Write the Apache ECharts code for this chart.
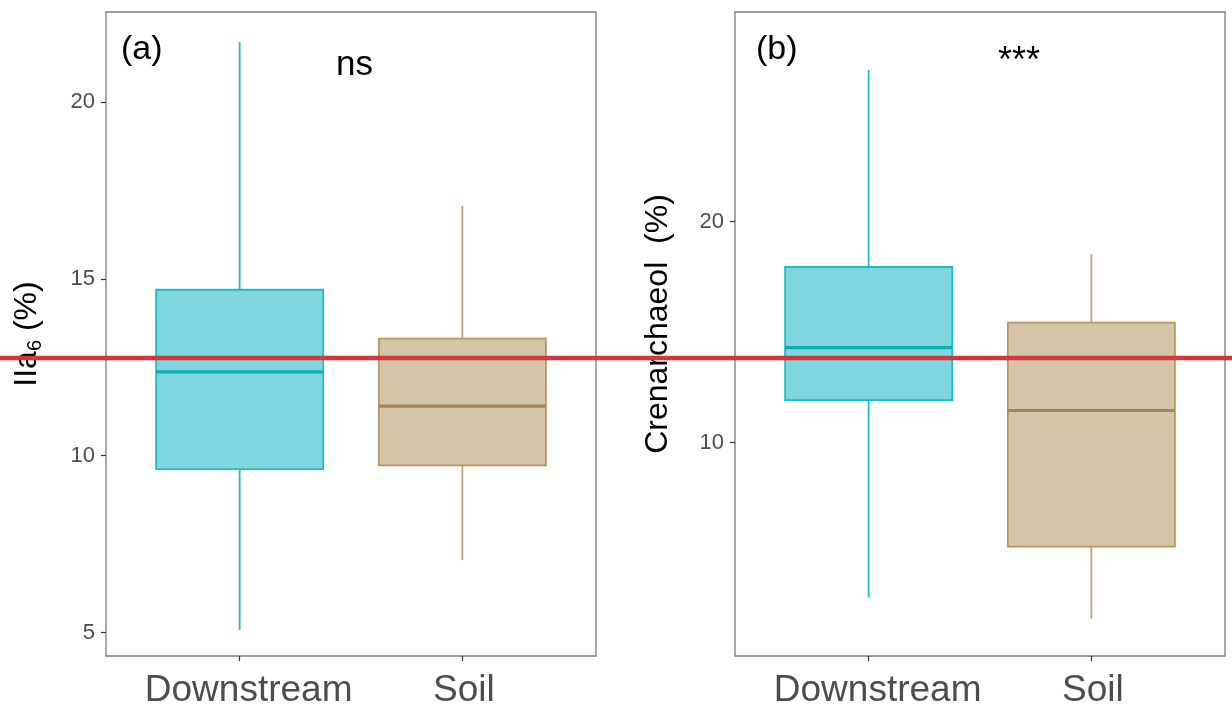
<!DOCTYPE html>
<html>
<head>
<meta charset="utf-8">
<script src="https://cdn.jsdelivr.net/npm/echarts@6/dist/echarts.min.js"></script>
<style>
  html, body { margin: 0; padding: 0; background: #fff; }
  #main { width: 1232px; height: 705px; }
</style>
</head>
<body>
<div id="main"></div>
<script>
// categories on the x axis (ggplot-style positions 1 and 2)
var categories = ["Downstream", "Soil"];
var catPos = [1, 2];

// box stats: [lower whisker, Q1, median, Q3, upper whisker]
var iia6Down = [5.07, 9.62, 12.37, 14.69, 21.70];
var iia6Soil = [7.05, 9.73, 11.40, 13.31, 17.06];
var crenDown = [2.99, 11.92, 14.30, 17.95, 26.87];
var crenSoil = [2.02, 5.28, 11.45, 15.43, 18.52];

// tick labels
var ticksA = [5, 10, 15, 20];
var ticksB = [10, 20];

// horizontal red reference line (value on panel a's axis)
var redLineValue = 12.76;

var FONT = "Liberation Sans, Arial, sans-serif";
var fills = ["#80d6dd", "#d4c4a9"];
var strokes = ["#1bbec8", "#b8965f"];
var medians = ["#0cafb9", "#a98550"];
var whiskers = ["#1bbec8", "#c4a476"];

function toData(list) {
  return list.map(function (s, i) {
    return [catPos[i], s[0], s[1], s[2], s[3], s[4], i];
  });
}

function renderBox(params, api) {
  var x = api.value(0);
  var k = api.value(6);
  var pMin = api.coord([x, api.value(1)]);
  var pQ1 = api.coord([x, api.value(2)]);
  var pMed = api.coord([x, api.value(3)]);
  var pQ3 = api.coord([x, api.value(4)]);
  var pMax = api.coord([x, api.value(5)]);
  var half = api.size([0.375, 0])[0];
  var cx = pMed[0];
  return {
    type: "group",
    children: [
      { type: "line", shape: { x1: cx, y1: pMax[1], x2: cx, y2: pQ3[1] },
        style: { stroke: whiskers[k], lineWidth: 1.8 } },
      { type: "line", shape: { x1: cx, y1: pQ1[1], x2: cx, y2: pMin[1] },
        style: { stroke: whiskers[k], lineWidth: 1.8 } },
      { type: "rect", shape: { x: cx - half, y: pQ3[1], width: half * 2, height: pQ1[1] - pQ3[1] },
        style: { fill: fills[k], stroke: strokes[k], lineWidth: 1.8 } },
      { type: "line", shape: { x1: cx - half, y1: pMed[1], x2: cx + half, y2: pMed[1] },
        style: { stroke: medians[k], lineWidth: 3.2 } }
    ]
  };
}

function xAxisCfg(idx) {
  return {
    type: "value", gridIndex: idx, min: 0.4, max: 2.6,
    axisLine: { show: false },
    splitLine: { show: false },
    axisTick: { show: true, length: 5, customValues: catPos, lineStyle: { color: "#333", width: 1.2 } },
    axisLabel: {
      customValues: catPos, margin: 16, fontSize: 37, color: "#4d4d4d", fontFamily: FONT,
      formatter: function (v) {
        var i = Math.round(v) - 1;
        return i === 0 ? "{d|" + categories[i] + "}" : "{s|" + categories[i] + "}";
      },
      rich: {
        d: { fontSize: 37, color: "#4d4d4d", fontFamily: FONT, padding: [0, 0, 0, 18] },
        s: { fontSize: 37, color: "#4d4d4d", fontFamily: FONT, padding: [0, 0, 0, 3] }
      }
    }
  };
}

function yAxisCfg(idx, min, max, ticks, name) {
  return {
    type: "value", gridIndex: idx, min: min, max: max,
    axisLine: { show: false },
    splitLine: { show: false },
    axisTick: { show: true, length: 5, customValues: ticks, lineStyle: { color: "#333", width: 1.2 } },
    axisLabel: { customValues: ticks, margin: 11, fontSize: 22, color: "#4d4d4d", fontFamily: FONT },
    name: name,
    nameLocation: "middle",
    nameRotate: 90,
    nameGap: 61,
    nameTextStyle: {
      fontSize: 32, color: "#000", fontFamily: FONT,
      rich: {
        m: { fontSize: 32, color: "#000", fontFamily: FONT },
        c: { fontSize: 32, color: "#000", fontFamily: FONT, padding: [0, 0, 0, 20] },
        s: { fontSize: 20, color: "#000", fontFamily: FONT, padding: [15, 0, 0, 0] }
      }
    }
  };
}

var chart = echarts.init(document.getElementById("main"), null, { renderer: "canvas" });

var option = {
  backgroundColor: "#fff",
  animation: false,
  title: [
    { text: "(a)", left: 116, top: 28, textStyle: { fontSize: 34, fontWeight: "normal", color: "#000", fontFamily: FONT } },
    { text: "ns", left: 331, top: 43, textStyle: { fontSize: 35, fontWeight: "normal", color: "#000", fontFamily: FONT } },
    { text: "(b)", left: 751, top: 28, textStyle: { fontSize: 34, fontWeight: "normal", color: "#000", fontFamily: FONT } },
    { text: "***", left: 993, top: 39, textStyle: { fontSize: 36, fontWeight: "normal", color: "#000", fontFamily: FONT } }
  ],
  grid: [
    { left: 106, top: 12, width: 490, height: 644, outerBoundsMode: "none", show: true,
      borderColor: "#7a7a7a", borderWidth: 1.3, backgroundColor: "transparent" },
    { left: 735, top: 12, width: 490, height: 644, outerBoundsMode: "none", show: true,
      borderColor: "#7a7a7a", borderWidth: 1.3, backgroundColor: "transparent" }
  ],
  xAxis: [xAxisCfg(0), xAxisCfg(1)],
  yAxis: [
    yAxisCfg(0, 4.34, 22.54, ticksA, "{m|IIa}{s|6}{m| (%)}"),
    yAxisCfg(1, 0.33, 29.5, ticksB, "{c|Crenarchaeol  (%)}")
  ],
  series: [
    { type: "custom", xAxisIndex: 0, yAxisIndex: 0, renderItem: renderBox,
      data: toData([iia6Down, iia6Soil]) },
    { type: "custom", xAxisIndex: 1, yAxisIndex: 1, renderItem: renderBox,
      data: toData([crenDown, crenSoil]) }
  ]
};

chart.setOption(option);

// red line placed through panel a's y scale, spanning the whole picture
var redY = chart.convertToPixel({ yAxisIndex: 0 }, redLineValue);
chart.setOption({
  graphic: [{
    type: "line", z: 100,
    shape: { x1: 0, y1: redY, x2: chart.getWidth(), y2: redY },
    style: { stroke: "#d1373d", lineWidth: 4.5 }
  }]
});
</script>
</body>
</html>
